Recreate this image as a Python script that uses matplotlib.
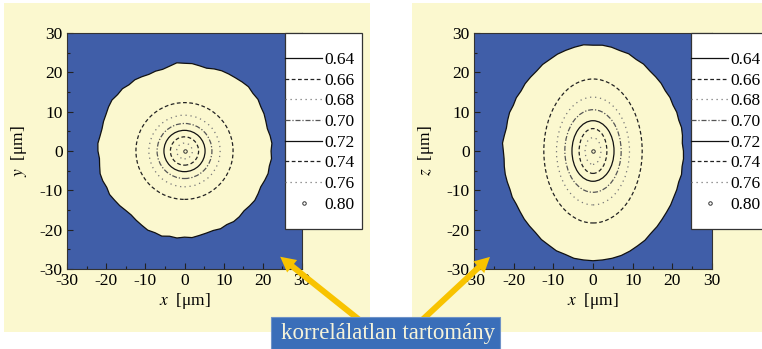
import numpy as np
import matplotlib
matplotlib.use("Agg")
import matplotlib.pyplot as plt
from matplotlib.patches import Ellipse, Polygon, Rectangle, FancyArrowPatch
from matplotlib.lines import Line2D
from matplotlib.ticker import MultipleLocator

plt.rcParams.update({
    "font.family": "serif",
    "font.serif": ["Liberation Serif", "DejaVu Serif"],
    "mathtext.fontset": "stix",
    "axes.unicode_minus": False,
    "font.size": 12.5,
})

# ---------------------------------------------------------------------------
# data
# ---------------------------------------------------------------------------
levels = ["0.64", "0.66", "0.68", "0.70", "0.72", "0.74", "0.76", "0.80"]

# outer 0.64 contour, radius [um] at every 5 degrees
boundary_angle = np.arange(0, 360, 5)
boundary_r_xy = [22.1, 22.4, 22.2, 21.9, 22.1, 22.4, 22.5, 22.9, 22.8, 23.1,
                 22.9, 22.7, 22.6, 22.5, 22.2, 21.8, 22.0, 22.3, 22.3, 22.5,
                 21.9, 21.5, 21.6, 21.5, 21.8, 22.1, 22.0, 22.4, 22.3, 22.6,
                 22.4, 22.1, 22.0, 21.8, 21.9, 22.2, 22.1, 21.8, 22.0, 22.3,
                 22.2, 21.9, 22.1, 21.8, 21.6, 21.3, 21.2, 21.5, 21.8, 22.2,
                 22.1, 22.4, 22.0, 22.2, 21.9, 22.1, 21.8, 21.6, 21.5, 21.8,
                 21.6, 21.9, 21.8, 21.5, 21.7, 21.9, 21.7, 21.5, 21.8, 22.1,
                 22.0, 22.3]
boundary_r_xz = [22.8, 22.6, 22.9, 23.1, 23.0, 23.3, 23.3, 23.7, 23.8, 24.3,
                 24.6, 24.9, 25.5, 25.7, 26.3, 26.4, 26.8, 27.0, 26.9, 27.1,
                 26.8, 26.5, 26.2, 25.7, 25.4, 24.8, 24.5, 24.2, 23.7, 23.6,
                 23.2, 23.2, 22.9, 22.6, 22.7, 22.9, 22.6, 22.5, 22.7, 22.9,
                 23.0, 23.1, 23.5, 23.6, 24.0, 24.5, 24.9, 25.3, 26.0, 26.4,
                 27.0, 27.2, 27.7, 27.8, 27.9, 27.8, 27.7, 27.5, 27.1, 26.6,
                 26.2, 25.5, 25.1, 24.6, 24.2, 23.9, 23.5, 23.3, 23.0, 23.1,
                 22.8, 22.9]

# inner contours 0.66 ... 0.76 : semi-axes [um]
inner_levels = ["0.66", "0.68", "0.70", "0.72", "0.74", "0.76"]
xy_rx = [12.4, 9.1, 7.0, 5.25, 3.6, 2.0]
xy_ry = [12.3, 9.1, 7.0, 5.25, 3.6, 2.0]
xz_rx = [12.4, 9.2, 7.1, 5.3, 3.5, 2.0]
xz_rz = [18.3, 13.7, 10.5, 7.7, 5.7, 3.4]

ticks = [-30, -20, -10, 0, 10, 20, 30]

# ---------------------------------------------------------------------------
# style
# ---------------------------------------------------------------------------
BLUE = "#405ea8"
CREAM = "#fbf8cf"
ARROW = "#f8c300"
BOXBLUE = "#3a6eb9"

styles = {
    "0.64": dict(ls="-", color="#111111"),
    "0.66": dict(ls=(0, (3, 2)), color="#222222"),
    "0.68": dict(ls=(0, (1, 3)), color="#777777"),
    "0.70": dict(ls=(0, (4, 1.5, 1, 1.5)), color="#555555"),
    "0.72": dict(ls="-", color="#111111"),
    "0.74": dict(ls=(0, (3, 2)), color="#222222"),
    "0.76": dict(ls=(0, (1, 3)), color="#777777"),
}

W, H = 762, 349
fig = plt.figure(figsize=(W / 100, H / 100), dpi=100)


def fx(px):
    return px / W


def fy(py):
    return 1 - py / H


# cream panels behind the two plots
fig.patches.append(Rectangle((fx(4), fy(332)), fx(366), 329 / H, transform=fig.transFigure,
                             fc=CREAM, ec="none", zorder=-5))
fig.patches.append(Rectangle((fx(412), fy(332)), fx(360), 329 / H, transform=fig.transFigure,
                             fc=CREAM, ec="none", zorder=-5))


def make_panel(left_px, right_px, r_boundary, rx, ry, ylab, leg_left_px, leg_w_px):
    ax = fig.add_axes([fx(left_px), fy(269), fx(right_px - left_px), 236 / H])
    ax.set_facecolor(BLUE)
    ax.set_xlim(-30, 30)
    ax.set_ylim(-30, 30)

    th = np.deg2rad(boundary_angle)
    r = np.array(r_boundary)
    pts = np.column_stack([r * np.cos(th), r * np.sin(th)])
    ax.add_patch(Polygon(pts, closed=True, fc=CREAM, ec="#111111", lw=0.9, zorder=1))

    for lev, a, b in zip(inner_levels, rx, ry):
        st = styles[lev]
        ax.add_patch(Ellipse((0, 0), 2 * a, 2 * b, fill=False, ec=st["color"],
                             ls=st["ls"], lw=0.9, zorder=2))
    ax.plot([0], [0], "o", ms=2.5, mfc="none", mec="#333333", mew=0.7, zorder=3)

    ax.xaxis.set_minor_locator(MultipleLocator(5))
    ax.yaxis.set_minor_locator(MultipleLocator(5))
    ax.set_xticks(ticks)
    ax.set_yticks(ticks)
    ax.tick_params(which="both", direction="in", color="#222222", width=0.8)
    ax.tick_params(which="major", length=4, pad=3)
    ax.tick_params(which="minor", length=2.5)
    for s in ax.spines.values():
        s.set_color("#333333")
        s.set_linewidth(0.8)

    ax.set_xlabel(r"$x$  [μm]", labelpad=1)
    ax.set_ylabel(ylab + r"  [μm]", labelpad=8)

    # legend box
    ax.add_patch(Rectangle((fx(leg_left_px), fy(229)), fx(leg_w_px), 196 / H,
                           transform=fig.transFigure, fc="white", ec="#333333",
                           lw=0.9, clip_on=False, zorder=6))
    handles = []
    for lev in levels:
        if lev in styles:
            st = styles[lev]
            handles.append(Line2D([], [], ls=st["ls"], color=st["color"], lw=0.9))
        else:
            handles.append(Line2D([], [], ls="none", marker="o", ms=2.5, mfc="none",
                                  mec="#333333", mew=0.7))
    leg = ax.legend(handles, levels, loc="upper left",
                    bbox_to_anchor=(fx(leg_left_px), fy(52)),
                    bbox_transform=fig.transFigure, frameon=False,
                    borderpad=0, borderaxespad=0, handlelength=2.15,
                    handletextpad=0.12, labelspacing=0.26, numpoints=1)
    leg.set_zorder(7)
    return ax


make_panel(67, 302, boundary_r_xy, xy_rx, xy_ry, r"$y$", 285, 77)
make_panel(474, 712, boundary_r_xz, xz_rx, xz_rz, r"$z$", 691, 100)

# yellow arrows pointing at the uncorrelated (blue) area
for tail, head in [((362, 322), (278, 255)), ((420, 322), (492, 255))]:
    arr = FancyArrowPatch((tail[0] / 100, (H - tail[1]) / 100),
                          (head[0] / 100, (H - head[1]) / 100),
                          transform=fig.dpi_scale_trans,
                          arrowstyle="simple,head_length=1.1,head_width=1.15,tail_width=0.43",
                          mutation_scale=10, fc=ARROW, ec="none", zorder=8)
    fig.add_artist(arr)

fig.patches.append(Rectangle((fx(271), 0), fx(229), 32 / H, transform=fig.transFigure,
                             fc=BOXBLUE, ec="#6f93c8", lw=0.8, zorder=9))
fig.text(fx(388), fy(333), "korrelálatlan tartomány", ha="center", va="center",
         fontsize=16.5, color="#f6f3da", zorder=10)

fig.savefig("out.png", dpi=100)
